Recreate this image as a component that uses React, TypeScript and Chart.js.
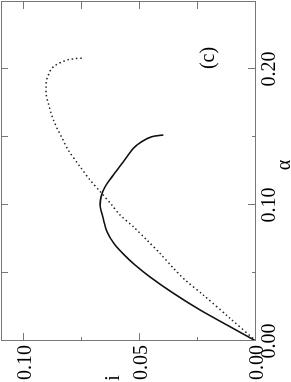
import React, { useEffect, useRef } from "react";
import { Chart, registerables } from "chart.js";

Chart.register(...registerables);

// α axis (drawn vertically after rotation)
const alphaTicks = [0, 0.1, 0.2];
const alphaMinorTicks = [0.05, 0.15];
const alphaTickLabels = ["0.00", "0.10", "0.20"];
// i axis
const iTicks = [0, 0.05, 0.1];
const iMinorTicks = [0.025, 0.075];
const iTickLabels = ["0.00", "0.05", "0.10"];

// solid curve
const solidAlpha = [0, 0.0114, 0.0228, 0.0353, 0.0471, 0.0559, 0.0632, 0.0718, 0.0804, 0.0914, 0.0988, 0.1061, 0.1135, 0.1221, 0.1318, 0.1417, 0.1466, 0.1502, 0.1515];
const solidI = [0, 0.0121, 0.0241, 0.0358, 0.0457, 0.0522, 0.0568, 0.0613, 0.0643, 0.0661, 0.0672, 0.0668, 0.0651, 0.0615, 0.0572, 0.0529, 0.0493, 0.045, 0.04];

// dotted curve
const dottedAlpha = [0, 0.0167, 0.0338, 0.0449, 0.0535, 0.0644, 0.0743, 0.084, 0.0926, 0.1, 0.1098, 0.1184, 0.1282, 0.1404, 0.1498, 0.1556, 0.1618, 0.1679, 0.1743, 0.1809, 0.187, 0.1908, 0.194, 0.1968, 0.1999, 0.2022, 0.2037, 0.2051, 0.2061, 0.2071, 0.2074, 0.2079, 0.2079];
const dottedI = [0, 0.0112, 0.0227, 0.0306, 0.0356, 0.0414, 0.0471, 0.0529, 0.0586, 0.0622, 0.0672, 0.0716, 0.0759, 0.081, 0.0838, 0.0856, 0.0872, 0.0885, 0.0895, 0.0905, 0.0906, 0.0905, 0.09, 0.0892, 0.0884, 0.0869, 0.0856, 0.0838, 0.0823, 0.0805, 0.0788, 0.0766, 0.0744];

const xTitle = "α";
const yTitle = "i";
const panelLabel = "(c)";

const FONT = "'Liberation Serif', 'Times New Roman', serif";
const FRAME = "#777";

const framePlugin = {
  id: "frameTicks",
  afterDraw(chart: any) {
    const { ctx, chartArea, scales } = chart;
    const { left, right, top, bottom } = chartArea;
    const xs = scales.x;
    const ys = scales.y;
    ctx.save();
    ctx.strokeStyle = FRAME;
    ctx.lineWidth = 1;
    ctx.strokeRect(left + 0.5, top + 0.5, right - left - 1, bottom - top - 1);
    ctx.beginPath();
    const xt = (vals: number[], lenB: number, lenT: number) => {
      vals.forEach((v) => {
        const p = Math.round(xs.getPixelForValue(v)) + 0.5;
        ctx.moveTo(p, bottom);
        ctx.lineTo(p, bottom - lenB);
        ctx.moveTo(p, top);
        ctx.lineTo(p, top + lenT);
      });
    };
    const yt = (vals: number[], lenL: number, lenR: number) => {
      vals.forEach((v) => {
        const p = Math.round(ys.getPixelForValue(v)) - 0.5;
        ctx.moveTo(left, p);
        ctx.lineTo(left + lenL, p);
        ctx.moveTo(right, p);
        ctx.lineTo(right - lenR, p);
      });
    };
    xt(alphaTicks, 8, 7);
    xt(alphaMinorTicks, 4, 7);
    yt(iTicks, 8, 8);
    yt(iMinorTicks, 4, 8);
    ctx.stroke();

    ctx.fillStyle = "#000";
    ctx.font = `20px ${FONT}`;
    ctx.textBaseline = "alphabetic";
    ctx.textAlign = "center";
    alphaTicks.forEach((v, k) => {
      ctx.fillText(alphaTickLabels[k], xs.getPixelForValue(v), bottom + 19);
    });
    ctx.textAlign = "right";
    iTicks.forEach((v, k) => {
      ctx.fillText(iTickLabels[k], left - 4, ys.getPixelForValue(v) + 6.5);
    });
    ctx.textAlign = "center";
    ctx.fillText(xTitle, (left + right) / 2 + 6, 290);
    ctx.fillText(yTitle, 4, 119);
    ctx.fillText(panelLabel, 324, 214);
    ctx.restore();
  },
};

export default function App() {
  const ref = useRef<HTMLCanvasElement>(null);
  useEffect(() => {
    if (!ref.current) return;
    const solid = solidAlpha.map((a, k) => ({ x: a, y: solidI[k] }));
    const dotted = dottedAlpha.map((a, k) => ({ x: a, y: dottedI[k] }));
    const chart = new Chart(ref.current, {
      type: "scatter",
      data: {
        datasets: [
          {
            data: dotted,
            showLine: true,
            pointRadius: 0,
            borderColor: "#222",
            borderWidth: 1.5,
            borderDash: [1.5, 2.8],
            tension: 0.3,
          },
          {
            data: solid,
            showLine: true,
            pointRadius: 0,
            borderColor: "#111",
            borderWidth: 1.6,
            tension: 0.3,
          },
        ],
      },
      options: {
        animation: false,
        responsive: false,
        devicePixelRatio: 1,
        layout: { padding: { top: 1, right: 1, left: 0, bottom: 0 } },
        plugins: { legend: { display: false }, tooltip: { enabled: false } },
        scales: {
          x: {
            type: "linear",
            min: 0,
            max: 0.25,
            afterBuildTicks: (axis: any) => {
              axis.ticks = alphaTicks.map((v) => ({ value: v }));
            },
            afterFit: (s: any) => {
              s.height = 35;
            },
            grid: { display: false },
            border: { display: false },
            ticks: { display: false },
          },
          y: {
            type: "linear",
            min: 0,
            max: 0.11,
            afterBuildTicks: (axis: any) => {
              axis.ticks = iTicks.map((v) => ({ value: v }));
            },
            afterFit: (s: any) => {
              s.width = 41;
            },
            grid: { display: false },
            border: { display: false },
            ticks: { display: false },
          },
        },
      },
      plugins: [framePlugin],
    });
    return () => chart.destroy();
  }, []);

  return (
    <div style={{ position: "fixed", left: 0, top: 0, width: 291, height: 382, overflow: "hidden", background: "#fff" }}>
      <div
        style={{
          position: "absolute",
          left: 0,
          top: 0,
          width: 382,
          height: 291,
          transformOrigin: "0 0",
          transform: "translate(0px, 382px) rotate(-90deg)",
        }}
      >
        <canvas ref={ref} width={382} height={291} style={{ display: "block" }} />
      </div>
    </div>
  );
}
